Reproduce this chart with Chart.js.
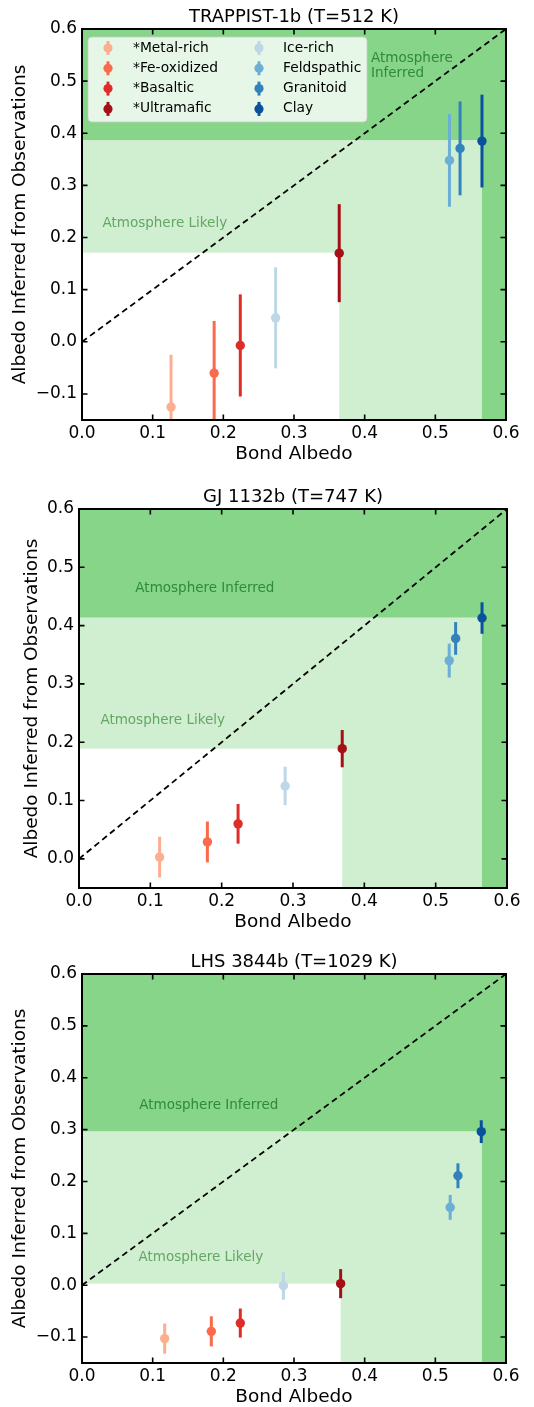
<!DOCTYPE html>
<html><head><meta charset="utf-8">
<script src="https://cdn.jsdelivr.net/npm/chart.js@4.4.1/dist/chart.umd.min.js"></script>
<style>
html,body{margin:0;padding:0;background:#fff;overflow:hidden;width:534px;height:1407px}
.panel{position:absolute;left:0}
canvas{display:block}
</style></head>
<body>
<div class="panel" style="top:0px"><canvas id="c1" width="534" height="466"></canvas></div>
<div class="panel" style="top:480px"><canvas id="c2" width="534" height="454"></canvas></div>
<div class="panel" style="top:945px"><canvas id="c3" width="534" height="464"></canvas></div>
<script>
// ---------- data ----------
const categories = ['*Metal-rich','*Fe-oxidized','*Basaltic','*Ultramafic','Ice-rich','Feldspathic','Granitoid','Clay'];
const xTickValues = [0.0,0.1,0.2,0.3,0.4,0.5,0.6];
const yTickValuesTrappist = [-0.1,0.0,0.1,0.2,0.3,0.4,0.5,0.6];
const yTickValuesGJ = [0.0,0.1,0.2,0.3,0.4,0.5,0.6];
const yTickValuesLHS = [-0.1,0.0,0.1,0.2,0.3,0.4,0.5,0.6];
const oneToOne = [0.0, 0.6];

// TRAPPIST-1b
const trappistBond     = [0.126, 0.187, 0.224, 0.364, 0.274, 0.520, 0.535, 0.566];
const trappistInferred = [-0.125, -0.060, -0.007, 0.170, 0.046, 0.348, 0.371, 0.385];
const trappistErr      = [0.100, 0.100, 0.098, 0.094, 0.097, 0.089, 0.090, 0.089];
const trappistLikelyEdge   = [0.364, 0.171];   // [bond albedo, inferred albedo]
const trappistInferredEdge = [0.566, 0.387];

// GJ 1132b
const gjBond     = [0.113, 0.180, 0.223, 0.369, 0.289, 0.519, 0.528, 0.565];
const gjInferred = [0.003, 0.029, 0.060, 0.189, 0.125, 0.340, 0.378, 0.413];
const gjErr      = [0.035, 0.035, 0.034, 0.032, 0.033, 0.029, 0.028, 0.027];
const gjLikelyEdge   = [0.369, 0.189];
const gjInferredEdge = [0.565, 0.414];

// LHS 3844b
const lhsBond     = [0.117, 0.183, 0.224, 0.366, 0.285, 0.521, 0.532, 0.565];
const lhsInferred = [-0.103, -0.089, -0.073, 0.003, -0.001, 0.150, 0.211, 0.296];
const lhsErr      = [0.029, 0.029, 0.028, 0.028, 0.027, 0.024, 0.024, 0.022];
const lhsLikelyEdge   = [0.366, 0.003];
const lhsInferredEdge = [0.566, 0.297];

// ---------- styles ----------
const markerColors = ['#fcae91','#fb6a4a','#de2d26','#a50f15','#bdd7e7','#6baed6','#3182bd','#08519c'];
const DARK = 'rgb(134,213,136)';
const LIGHT = 'rgb(208,238,208)';
const TXT_INF = '#2f8a3a';
const TXT_LIK = '#64a764';
const FONT = "'DejaVu Sans', sans-serif";
Chart.defaults.font.family = FONT;
Chart.defaults.color = '#000';

function fmt(v){
  if (Math.abs(v) < 1e-9) return '0.0';
  return (v < 0 ? '\u2212' : '') + Math.abs(v).toFixed(1);
}

function makePlugin(p){
  return {
    id: 'decor_' + p.id,
    beforeDatasetsDraw(chart){
      const {ctx, chartArea: a, scales: {x, y}} = chart;
      ctx.save();
      ctx.fillStyle = '#fff'; ctx.fillRect(a.left, a.top, a.width, a.height);
      let ex = x.getPixelForValue(p.likely[0]), ey = y.getPixelForValue(p.likely[1]);
      ctx.fillStyle = LIGHT;
      ctx.fillRect(a.left, a.top, a.width, ey - a.top);
      ctx.fillRect(ex, a.top, a.right - ex, a.height);
      ex = x.getPixelForValue(p.inferredEdge[0]); ey = y.getPixelForValue(p.inferredEdge[1]);
      ctx.fillStyle = DARK;
      ctx.fillRect(a.left, a.top, a.width, ey - a.top);
      ctx.fillRect(ex, a.top, a.right - ex, a.height);
      ctx.font = '13.5px ' + FONT;
      ctx.textAlign = 'left'; ctx.textBaseline = 'middle';
      p.texts.forEach(t => {
        ctx.fillStyle = t.color;
        t.lines.forEach((ln, k) => {
          ctx.fillText(ln, x.getPixelForValue(t.x), y.getPixelForValue(t.y[k]));
        });
      });
      ctx.restore();
    },
    beforeDatasetDraw(chart, args){
      const i = args.index - 1;
      if (i < 0) return;
      const {ctx, chartArea: a, scales: {x, y}} = chart;
      ctx.save();
      ctx.beginPath(); ctx.rect(a.left, a.top, a.width, a.height); ctx.clip();
      const px = x.getPixelForValue(p.bond[i]);
      ctx.strokeStyle = markerColors[i];
      ctx.lineWidth = 3;
      ctx.beginPath();
      ctx.moveTo(px, y.getPixelForValue(p.inferred[i] - p.err[i]));
      ctx.lineTo(px, y.getPixelForValue(p.inferred[i] + p.err[i]));
      ctx.stroke();
      ctx.restore();
    },
    afterDatasetsDraw(chart){
      if (!p.legend) return;
      const {ctx, chartArea: a} = chart;
      ctx.save();
      const lx = a.left + 6, ly = a.top + 8, lw = 279, lh = 85, r = 4;
      ctx.beginPath();
      ctx.moveTo(lx + r, ly); ctx.lineTo(lx + lw - r, ly); ctx.quadraticCurveTo(lx + lw, ly, lx + lw, ly + r);
      ctx.lineTo(lx + lw, ly + lh - r); ctx.quadraticCurveTo(lx + lw, ly + lh, lx + lw - r, ly + lh);
      ctx.lineTo(lx + r, ly + lh); ctx.quadraticCurveTo(lx, ly + lh, lx, ly + lh - r);
      ctx.lineTo(lx, ly + r); ctx.quadraticCurveTo(lx, ly, lx + r, ly);
      ctx.closePath();
      ctx.fillStyle = 'rgba(255,255,255,0.8)'; ctx.fill();
      ctx.strokeStyle = 'rgba(204,204,204,0.8)'; ctx.lineWidth = 1; ctx.stroke();
      ctx.font = '13.8px ' + FONT; ctx.textAlign = 'left'; ctx.textBaseline = 'middle';
      categories.forEach((c, i) => {
        const col = Math.floor(i / 4), row = i % 4;
        const mx = a.left + (col ? 177 : 26), tx = a.left + (col ? 201 : 51);
        const my = a.top + 19 + row * 20.3;
        ctx.strokeStyle = markerColors[i]; ctx.lineWidth = 3;
        ctx.beginPath(); ctx.moveTo(mx, my - 7); ctx.lineTo(mx, my + 7); ctx.stroke();
        ctx.fillStyle = markerColors[i];
        ctx.beginPath(); ctx.arc(mx, my, 4.6, 0, Math.PI * 2); ctx.fill();
        ctx.fillStyle = '#000'; ctx.fillText(c, tx, my);
      });
      ctx.restore();
    },
    afterDraw(chart){
      const {ctx, chartArea: a, scales: {x, y}} = chart;
      ctx.save();
      ctx.strokeStyle = '#000'; ctx.lineWidth = 1.6;
      const L = 5.5;
      ctx.beginPath();
      x.ticks.forEach(t => {
        const px = x.getPixelForValue(t.value);
        ctx.moveTo(px, a.bottom); ctx.lineTo(px, a.bottom - L);
        ctx.moveTo(px, a.top); ctx.lineTo(px, a.top + L);
      });
      y.ticks.forEach(t => {
        const py = y.getPixelForValue(t.value);
        ctx.moveTo(a.left, py); ctx.lineTo(a.left + L, py);
        ctx.moveTo(a.right, py); ctx.lineTo(a.right - L, py);
      });
      ctx.stroke();
      ctx.lineWidth = 2;
      ctx.strokeRect(a.left, a.top, a.width, a.height);
      ctx.restore();
    }
  };
}

const panels = [
  {id:'c1', title:'TRAPPIST-1b (T=512 K)', bond:trappistBond, inferred:trappistInferred, err:trappistErr,
   likely:trappistLikelyEdge, inferredEdge:trappistInferredEdge, yMin:-0.15, yTicks:yTickValuesTrappist,
   padLeft:7, padRight:28, yWidth:75, legend:true,
   texts:[{lines:['Atmosphere','Inferred'], x:0.409, y:[0.544,0.514], color:TXT_INF},
          {lines:['Atmosphere Likely'], x:0.029, y:[0.227], color:TXT_LIK}]},
  {id:'c2', title:'GJ 1132b (T=747 K)', bond:gjBond, inferred:gjInferred, err:gjErr,
   likely:gjLikelyEdge, inferredEdge:gjInferredEdge, yMin:-0.05, yTicks:yTickValuesGJ,
   padLeft:19, padRight:27, yWidth:60, legend:false,
   texts:[{lines:['Atmosphere Inferred'], x:0.079, y:[0.463], color:TXT_INF},
          {lines:['Atmosphere Likely'], x:0.030, y:[0.238], color:TXT_LIK}]},
  {id:'c3', title:'LHS 3844b (T=1029 K)', bond:lhsBond, inferred:lhsInferred, err:lhsErr,
   likely:lhsLikelyEdge, inferredEdge:lhsInferredEdge, yMin:-0.15, yTicks:yTickValuesLHS,
   padLeft:7, padRight:28, yWidth:75, legend:false,
   texts:[{lines:['Atmosphere Inferred'], x:0.081, y:[0.346], color:TXT_INF},
          {lines:['Atmosphere Likely'], x:0.080, y:[0.053], color:TXT_LIK}]}
];

panels.forEach(p => {
  const datasets = [{
    label: '1:1', data: oneToOne.map(v => ({x: v, y: v})), showLine: true,
    borderColor: '#000', borderWidth: 1.8, borderDash: [6, 4], pointRadius: 0, fill: false
  }];
  categories.forEach((c, i) => {
    datasets.push({
      label: c, data: [{x: p.bond[i], y: p.inferred[i]}],
      backgroundColor: markerColors[i], borderColor: markerColors[i], borderWidth: 0,
      pointRadius: 4.7, pointHoverRadius: 4.7
    });
  });
  new Chart(document.getElementById(p.id), {
    type: 'scatter',
    data: { datasets },
    options: {
      responsive: false, animation: false, devicePixelRatio: 1, events: [],
      layout: { padding: { left: p.padLeft, right: p.padRight, top: 0, bottom: 0 } },
      plugins: {
        legend: { display: false }, tooltip: { enabled: false },
        title: { display: true, text: p.title, fullSize: false, color: '#000',
                 font: { size: 18, weight: 'normal', lineHeight: 1.2 }, padding: { top: 7, bottom: 0.4 } }
      },
      scales: {
        x: {
          type: 'linear', min: 0, max: 0.6,
          grid: { display: false, drawTicks: false }, border: { display: false },
          afterBuildTicks: s => { s.ticks = xTickValues.map(v => ({value: v})); },
          afterFit: s => { s.height = 46; },
          ticks: { padding: 3, font: { size: 17 }, color: '#000', maxRotation: 0, autoSkip: false, callback: v => fmt(v) },
          title: { display: true, text: 'Bond Albedo', color: '#000', font: { size: 18.5, lineHeight: 1.2 }, padding: { top: 2, bottom: 1 } }
        },
        y: {
          type: 'linear', min: p.yMin, max: 0.6,
          grid: { display: false, drawTicks: false }, border: { display: false },
          afterBuildTicks: s => { s.ticks = p.yTicks.map(v => ({value: v})); },
          afterFit: s => { s.width = p.yWidth; },
          ticks: { padding: 5, font: { size: 17 }, color: '#000', autoSkip: false, callback: v => fmt(v) },
          title: { display: true, text: 'Albedo Inferred from Observations', color: '#000', font: { size: 18.5, lineHeight: 1.2 }, padding: { top: 2, bottom: 2 } }
        }
      }
    },
    plugins: [makePlugin(p)]
  });
});
</script>
</body></html>
